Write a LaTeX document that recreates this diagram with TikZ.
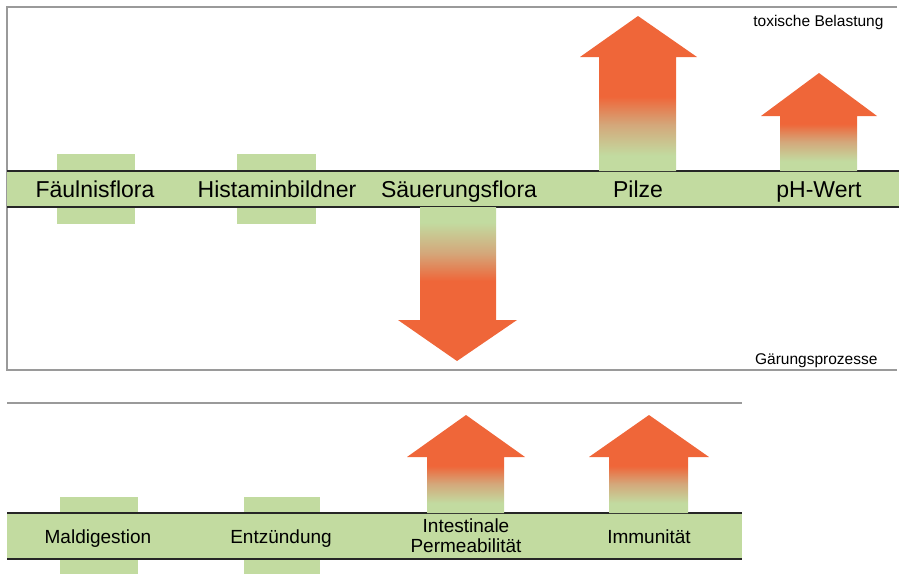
\documentclass[tikz,border=0pt]{standalone}
\usepackage{fontspec}
\setmainfont{Liberation Sans}
\definecolor{bandgreen}{HTML}{C2DBA0}
\definecolor{hotorange}{HTML}{EF6639}
\definecolor{tan}{HTML}{D4A77A}
\definecolor{framegray}{HTML}{9A9A9A}
% the path box covers 25bp..75bp of the shading
\pgfdeclareverticalshading{riseshade}{100bp}{color(0bp)=(bandgreen); color(30bp)=(bandgreen); color(40bp)=(tan); color(49bp)=(hotorange); color(100bp)=(hotorange)}
\tikzset{
  frame/.style={draw=framegray, line width=1.2pt},
  tab/.style={fill=bandgreen},
  bandline/.style={draw=black!85, line width=1.8pt},
  rise/.style={shading=riseshade},
  fall/.style={shading=riseshade, shading angle=180},
  biglabel/.style={anchor=base, font=\fontsize{23}{23}\selectfont},
  midlabel/.style={font=\fontsize{19}{20}\selectfont, align=center},
  smalllabel/.style={anchor=base east, font=\fontsize{15.5}{16}\selectfont}
}
\begin{document}
\begin{tikzpicture}[x=1pt, y=-1pt]
\useasboundingbox (0,0) rectangle (899,574);

% upper panel
\draw[frame] (897,7) -- (7,7) -- (7,370) -- (897,370);
\fill[tab] (57,154) rectangle (135,224);
\fill[tab] (237,154) rectangle (316,224);
\fill[bandgreen] (7,171) rectangle (899,207);
\draw[bandline] (7,171) -- (899,171);
\draw[bandline] (7,207) -- (899,207);

\path[rise] (599,171) -- (599,57) -- (580,57) -- (638,16) -- (697,57) -- (676,57) -- (676,171) -- cycle;
\path[rise] (780,171) -- (780,116) -- (761,116) -- (819,73) -- (877,116) -- (857,116) -- (857,171) -- cycle;
\path[fall] (420,207) -- (420,320) -- (398,320) -- (457,361) -- (517,320) -- (496,320) -- (496,207) -- cycle;

\node[biglabel] (faeulnis) at (95,197) {Fäulnisflora};
\node[biglabel] (histamin) at (277,197) {Histaminbildner};
\node[biglabel] (saeuerung) at (459,197) {Säuerungsflora};
\node[biglabel] (pilze) at (638,197) {Pilze};
\node[biglabel] (phwert) at (819,197) {pH-Wert};

\node[smalllabel] (toxisch) at (887,26) {toxische Belastung};
\node[smalllabel] (gaerung) at (881,364) {Gärungsprozesse};

% lower panel
\draw[frame] (7,403) -- (742,403);
\fill[tab] (60,497) rectangle (138,574);
\fill[tab] (244,497) rectangle (320,574);
\fill[bandgreen] (7,513) rectangle (742,559);
\draw[bandline] (7,513) -- (742,513);
\draw[bandline] (7,559) -- (742,559);

\path[rise] (427,513) -- (427,457) -- (407,457) -- (466,415) -- (525,457) -- (504,457) -- (504,513) -- cycle;
\path[rise] (609,513) -- (609,457) -- (589,457) -- (649,415) -- (709,457) -- (688,457) -- (688,513) -- cycle;

\node[midlabel, anchor=base] (maldig) at (98,543) {Maldigestion};
\node[midlabel, anchor=base] (entz) at (281,543) {Entzündung};
\node[midlabel] (perm) at (466,536) {Intestinale\\Permeabilität};
\node[midlabel, anchor=base] (immun) at (649,543) {Immunität};
\end{tikzpicture}
\end{document}
